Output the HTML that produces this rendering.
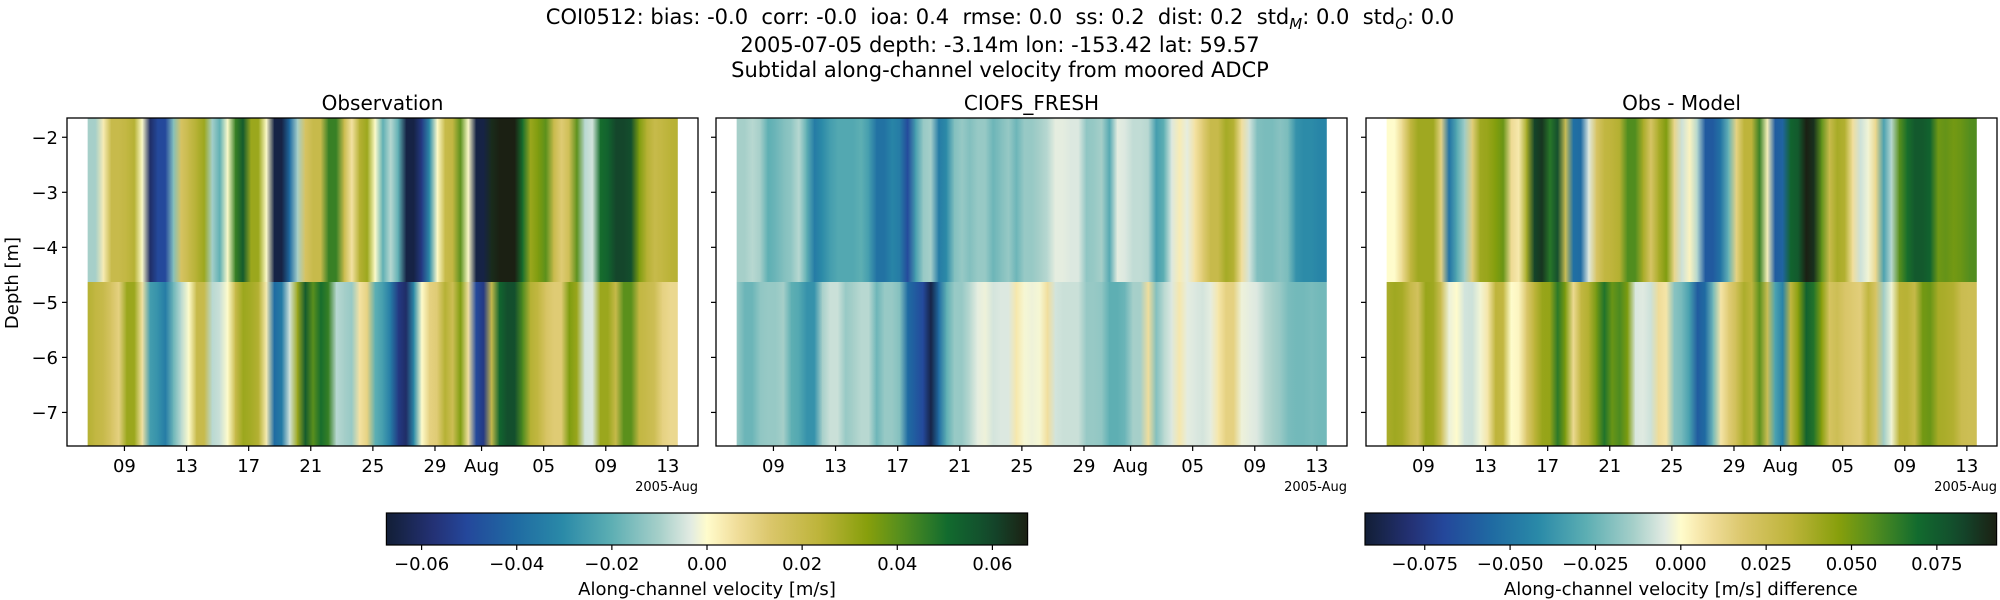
<!DOCTYPE html>
<html><head><meta charset="utf-8"><style>
body{margin:0;background:#fff}
svg{display:block;font-family:"DejaVu Sans","Liberation Sans",sans-serif}
.pre{white-space:pre}
</style></head><body>
<svg id="fig" width="2000" height="600" viewBox="0 0 2000 600" xmlns="http://www.w3.org/2000/svg">
<defs id="defs"></defs>
<g font-size="21" text-anchor="middle" fill="#000">
<text class="pre" xml:space="preserve" x="1000" y="24">COI0512: bias: -0.0  corr: -0.0  ioa: 0.4  rmse: 0.0  ss: 0.2  dist: 0.2  std<tspan font-size="15" font-style="italic" dy="5">M</tspan><tspan dy="-5">: 0.0  std</tspan><tspan font-size="15" font-style="italic" dy="5">O</tspan><tspan dy="-5">: 0.0</tspan></text>
<text x="1000" y="52">2005-07-05 depth: -3.14m lon: -153.42 lat: 59.57</text>
<text x="1000" y="77">Subtidal along-channel velocity from moored ADCP</text>
</g>
<g id="plots"></g>
</svg>
<script>
const times0 = 5.63, dtDays = 0.5, dataEnd = 43.6;
const obsTop = [-0.01,-0.01,0.003,0.02,0.02,0.022,0.025,0.0,-0.06,-0.05,-0.05,-0.015,0.015,0.02,0.025,0.03,-0.01,-0.02,0.0,0.045,0.055,0.03,0.03,0.0,-0.065,-0.065,-0.04,-0.01,0.015,0.02,0.02,0.045,0.045,0.02,0.005,0.025,0.03,0.0,-0.02,-0.008,-0.02,-0.065,-0.065,-0.055,-0.03,0.0,0.02,0.022,0.04,0.0,-0.065,-0.065,0.065,0.068,0.068,0.068,0.05,0.03,0.035,0.04,0.02,0.012,0.018,0.04,-0.008,-0.005,0.05,0.053,0.06,0.06,0.058,0.035,0.025,0.02,0.022,0.024,0.025];
const obsBottom = [0.025,0.022,0.02,0.015,0.01,0.03,0.03,0.005,-0.025,-0.028,-0.035,-0.018,-0.008,0.0,0.02,0.02,-0.008,-0.006,0.0,0.02,0.03,0.028,0.025,0.003,-0.04,-0.035,-0.005,0.03,0.055,0.04,0.05,0.045,-0.008,-0.01,-0.012,0.005,0.01,-0.02,-0.025,-0.035,-0.055,-0.06,-0.03,0.0,0.01,0.012,0.025,0.018,0.035,0.005,-0.05,-0.055,0.02,0.052,0.058,0.058,0.042,0.025,0.022,0.015,0.012,0.012,0.035,0.03,-0.005,-0.004,0.03,0.03,0.02,0.04,0.04,0.022,0.02,0.018,0.01,0.008,0.008];
const modelTop = [-0.01,-0.01,-0.008,-0.01,-0.02,-0.018,-0.015,-0.013,-0.008,-0.02,-0.035,-0.03,-0.025,-0.022,-0.022,-0.022,-0.02,-0.025,-0.038,-0.038,-0.032,-0.035,-0.05,-0.025,-0.012,-0.01,-0.035,-0.03,-0.015,-0.012,-0.015,-0.012,-0.012,-0.018,-0.015,-0.012,-0.018,-0.012,-0.012,-0.01,-0.008,-0.003,-0.003,-0.004,-0.004,-0.013,-0.012,-0.01,-0.022,-0.003,-0.004,-0.007,-0.007,-0.008,-0.025,-0.02,-0.004,0.003,-0.003,0.005,0.012,0.02,0.02,0.028,0.025,0.006,-0.005,-0.015,-0.016,-0.016,-0.014,-0.016,-0.028,-0.03,-0.03,-0.032,-0.032];
const modelBottom = [-0.012,-0.018,-0.018,-0.013,-0.012,-0.012,-0.01,-0.02,-0.022,-0.028,-0.028,-0.01,-0.006,-0.006,-0.012,-0.01,-0.008,-0.008,-0.018,-0.012,-0.012,-0.015,-0.04,-0.045,-0.05,-0.065,-0.04,-0.02,-0.012,-0.012,-0.008,-0.003,-0.002,-0.005,-0.004,-0.004,0.004,-0.001,-0.002,-0.001,0.006,-0.005,-0.006,-0.006,-0.006,-0.012,-0.012,-0.013,-0.02,-0.02,-0.018,-0.01,-0.01,0.006,-0.015,-0.008,-0.004,0.004,-0.003,-0.004,-0.005,-0.003,0.004,0.01,0.01,-0.002,-0.003,-0.004,-0.008,-0.01,-0.012,-0.016,-0.017,-0.017,-0.016,-0.017,-0.017];
const depthEdges = [-1.65, -4.63, -7.61];
const yTicks = [-2,-3,-4,-5,-6,-7];
const xTickDays = [8,12,16,20,24,28,31,35,39,43];
const xTickLabels = ['09','13','17','21','25','29','Aug','05','09','13'];
const velTicks = [-0.06,-0.04,-0.02,0.0,0.02,0.04,0.06];
const diffTicks = [-0.075,-0.05,-0.025,0.0,0.025,0.05,0.075];
const velRange = 0.0674, diffRange = 0.0925;

const NS='http://www.w3.org/2000/svg';
const cmap=[[-1,'#121e36'],[-0.85,'#243276'],[-0.75,'#24479b'],[-0.6,'#1f6aa2'],[-0.45,'#2a8aa8'],[-0.3,'#5caeb3'],[-0.15,'#a5cfc9'],[-0.05,'#e2ebe2'],[0,'#fffccc'],[0.08,'#f3e0a0'],[0.2,'#dac66a'],[0.35,'#bdb43a'],[0.5,'#879f0c'],[0.62,'#4e8c20'],[0.75,'#126b2e'],[0.88,'#134a2d'],[1,'#1b2013']];
function hx(c){return [1,3,5].map(k=>parseInt(c.substr(k,2),16));}
function color(v,range){let u=Math.max(-1,Math.min(1,v/range));
 for(let k=0;k<cmap.length-1;k++){const a=cmap[k],b=cmap[k+1];
  if(u<=b[0]){const f=(u-a[0])/(b[0]-a[0]);const ca=hx(a[1]),cb=hx(b[1]);
   return 'rgb('+ca.map((x,j)=>Math.round(x+(cb[j]-x)*f)).join(',')+')';}}
 return cmap[cmap.length-1][1];}
function el(tag,attrs,parent){const e=document.createElementNS(NS,tag);for(const k in attrs)e.setAttribute(k,attrs[k]);parent.appendChild(e);return e;}
const defs=document.getElementById('defs');
const plots=document.getElementById('plots');
const PW=631, PT=118, PH=328, X0=4.3, X1=44.94, D0=-1.65, D1=-7.61;
const panelLefts=[67,716,1366];
let gid=0;
function grad(c1,c2){const id='g'+(gid++);const g=el('linearGradient',{id:id,x1:0,x2:1,y1:0,y2:0},defs);
 el('stop',{offset:0,'stop-color':c1},g);el('stop',{offset:1,'stop-color':c2},g);return 'url(#'+id+')';}
const diffTop=obsTop.map((v,i)=>v-modelTop[i]);
const diffBottom=obsBottom.map((v,i)=>v-modelBottom[i]);
const panels=[{t:'Observation',rows:[obsTop,obsBottom],r:velRange,n:'observation'},
 {t:'CIOFS_FRESH',rows:[modelTop,modelBottom],r:velRange,n:'model'},
 {t:'Obs - Model',rows:[diffTop,diffBottom],r:diffRange,n:'difference'}];
panels.forEach((p,pi)=>{
 const L=panelLefts[pi];
 const xs=d=>L+(d-X0)/(X1-X0)*PW;
 const ys=z=>PT+(z-D0)/(D1-D0)*PH;
 const g=el('g',{},plots);
 
 
 const tt=el('text',{x:L+PW/2,y:110,'font-size':20,'text-anchor':'middle'},g);tt.textContent=p.t;
 
 
 p.rows.forEach((arr,ri)=>{
  const yTop=ys(depthEdges[ri]), yBot=ys(depthEdges[ri+1]);
  for(let i=0;i<arr.length-1;i++){
   const ta=times0+i*dtDays; let tb=ta+dtDays; if(ta>=dataEnd)break; const tbc=Math.min(tb,dataEnd);
   const c1=color(arr[i],p.r), c2=color(arr[i+1],p.r);
   const c2b = tbc<tb ? color(arr[i]+(arr[i+1]-arr[i])*(tbc-ta)/dtDays,p.r) : c2;
   const r=el('rect',{x:xs(ta),y:yTop,width:xs(tbc)-xs(ta)+0.6,height:yBot-yTop,fill:grad(c1,c2b)},g);
   
   
  }
 });
 const fr=el('rect',{x:L,y:PT,width:PW,height:PH,fill:'none',stroke:'#000','stroke-width':1.3},g);
 
 
 yTicks.forEach(v=>{const y=ys(v);
  el('line',{x1:L-5,x2:L,y1:y,y2:y,stroke:'#000','stroke-width':1.2},g);
  if(pi===0){const t=el('text',{x:L-9,y:y+6.5,'font-size':18,'text-anchor':'end'},g);t.textContent='\u2212'+Math.abs(v);
   
   }
 });
 xTickDays.forEach((d,k)=>{const x=xs(d);
  el('line',{x1:x,x2:x,y1:PT+PH,y2:PT+PH+5,stroke:'#000','stroke-width':1.2},g);
  const t=el('text',{x:x,y:472,'font-size':18,'text-anchor':'middle'},g);t.textContent=xTickLabels[k];
  
  
 });
 const off=el('text',{x:L+PW,y:491,'font-size':13,'text-anchor':'end'},g);off.textContent='2005-Aug';
 
 
});
const yl=el('text',{x:0,y:0,'font-size':18,'text-anchor':'middle',transform:'translate(18,283) rotate(-90)'},plots);
yl.textContent='Depth [m]';


function colorbar(L,R,range,ticks,label,name,fmt){
 const g=el('g',{},plots);
 
 
 const id='cb'+name;const lg=el('linearGradient',{id:id,x1:0,x2:1,y1:0,y2:0},defs);
 for(let k=0;k<=40;k++){const v=-range+2*range*k/40;el('stop',{offset:k/40,'stop-color':color(v,range)},lg);}
 el('rect',{x:L,y:513,width:R-L,height:32,fill:'url(#'+id+')',stroke:'#000','stroke-width':1.2},g);
 const xc=v=>L+(v+range)/(2*range)*(R-L);
 ticks.forEach(v=>{const x=xc(v);
  el('line',{x1:x,x2:x,y1:545,y2:550,stroke:'#000','stroke-width':1.2},g);
  const t=el('text',{x:x,y:570,'font-size':18,'text-anchor':'middle'},g);
  t.textContent=(v<0?'\u2212':'')+Math.abs(v).toFixed(fmt);
  
  });
 const t=el('text',{x:(L+R)/2,y:595,'font-size':18,'text-anchor':'middle'},g);t.textContent=label;
 
 
}
colorbar(386.4,1027.6,velRange,velTicks,'Along-channel velocity [m/s]','velocity-colorbar',2);
colorbar(1365,1996.6,diffRange,diffTicks,'Along-channel velocity [m/s] difference','difference-colorbar',3);
</script>
</body></html>
